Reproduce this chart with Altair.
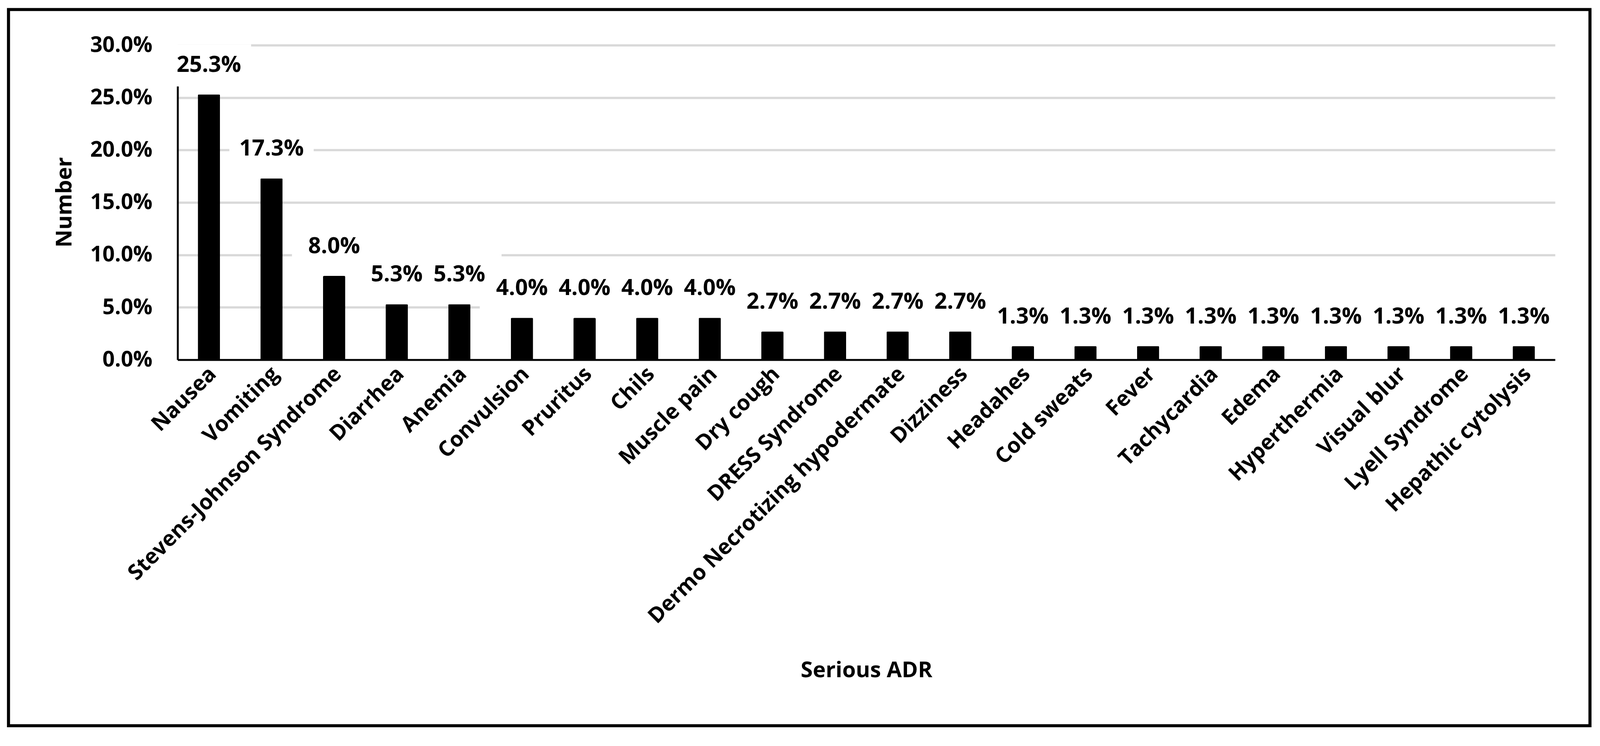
import altair as alt
import pandas as pd

# ---- data ----
categories = [
    "Nausea", "Vomiting", "Stevens-Johnson Syndrome", "Diarrhea", "Anemia",
    "Convulsion", "Pruritus", "Chils", "Muscle pain", "Dry cough",
    "DRESS Syndrome", "Dermo Necrotizing hypodermate", "Dizziness", "Headahes",
    "Cold sweats", "Fever", "Tachycardia", "Edema", "Hyperthermia",
    "Visual blur", "Lyell Syndrome", "Hepathic cytolysis",
]
percent = [25.3, 17.3, 8.0, 5.3, 5.3, 4.0, 4.0, 4.0, 4.0, 2.7, 2.7, 2.7, 2.7,
           1.3, 1.3, 1.3, 1.3, 1.3, 1.3, 1.3, 1.3, 1.3]
y_ticks = [0.0, 5.0, 10.0, 15.0, 20.0, 25.0, 30.0]

df = pd.DataFrame({"cat": categories, "share": [p / 100 for p in percent]})

FONT = "Open Sans"
W, H = 3592, 820

x_enc = alt.X(
    "cat:N", sort=categories,
    scale=alt.Scale(paddingInner=0, paddingOuter=0),
    axis=alt.Axis(
        title="Serious ADR", labelAngle=315, labelAlign="right", labelBaseline="middle",
        labelPadding=28, labelOffset=10, labelLimit=0, labelOverlap=False,
        labelFont=FONT, labelFontWeight="bold", labelFontSize=56, labelColor="black",
        ticks=False, tickSize=0, domainColor="black", domainWidth=5,
        titleFont=FONT, titleFontWeight="bold", titleFontSize=57, titleColor="black",
        titleX=W / 2, titleY=810, titleAlign="center", titleBaseline="middle",
        grid=False, zindex=0,
    ),
)
y_enc = alt.Y(
    "share:Q",
    scale=alt.Scale(domain=[0, 0.30], nice=False),
    axis=alt.Axis(
        title="Number", values=[v / 100 for v in y_ticks], format=".1%",
        labelFont=FONT, labelFontWeight="bold", labelFontSize=56, labelColor="black",
        labelPadding=66, ticks=False, tickSize=0,
        domainColor="black", domainWidth=5,
        grid=True, gridColor="#d9d9d9", gridWidth=6,
        titleFont=FONT, titleFontWeight="bold", titleFontSize=57, titleColor="black",
        titleAngle=270, titleX=-294, titleY=409, titleAlign="center", titleBaseline="middle",
        zindex=0,
    ),
)

base = alt.Chart(df)

bars = base.mark_bar(color="black", size=58, cornerRadius=3).encode(x=x_enc, y=y_enc)

label_boxes = base.mark_point(
    shape="M-2,-1H2V1H-2Z", size=12100, filled=True, color="white",
    opacity=1, strokeWidth=0, yOffset=-76,
).encode(x=alt.X("cat:N", sort=categories), y="share:Q")

labels = base.mark_text(
    font=FONT, fontWeight="bold", fontSize=58, color="black",
    baseline="middle", align="center", dy=-76,
).encode(
    x=alt.X("cat:N", sort=categories), y="share:Q",
    text=alt.Text("share:Q", format=".1%"),
)

frame = alt.Chart(alt.Data(values=[{"k": 1}])).mark_rect(
    filled=False, stroke="black", strokeWidth=8,
).encode(
    x=alt.value(-441), x2=alt.value(3683), y=alt.value(-93), y2=alt.value(1774),
)

chart = alt.layer(bars, label_boxes, labels, frame).properties(
    width=W, height=H,
    autosize=alt.AutoSizeParams(type="none"),
    padding={"left": 455, "top": 92, "right": 109, "bottom": 981},
    background="white",
).configure_view(stroke=None)

chart.save("out.html", embed_options={"renderer": "svg", "actions": False})
